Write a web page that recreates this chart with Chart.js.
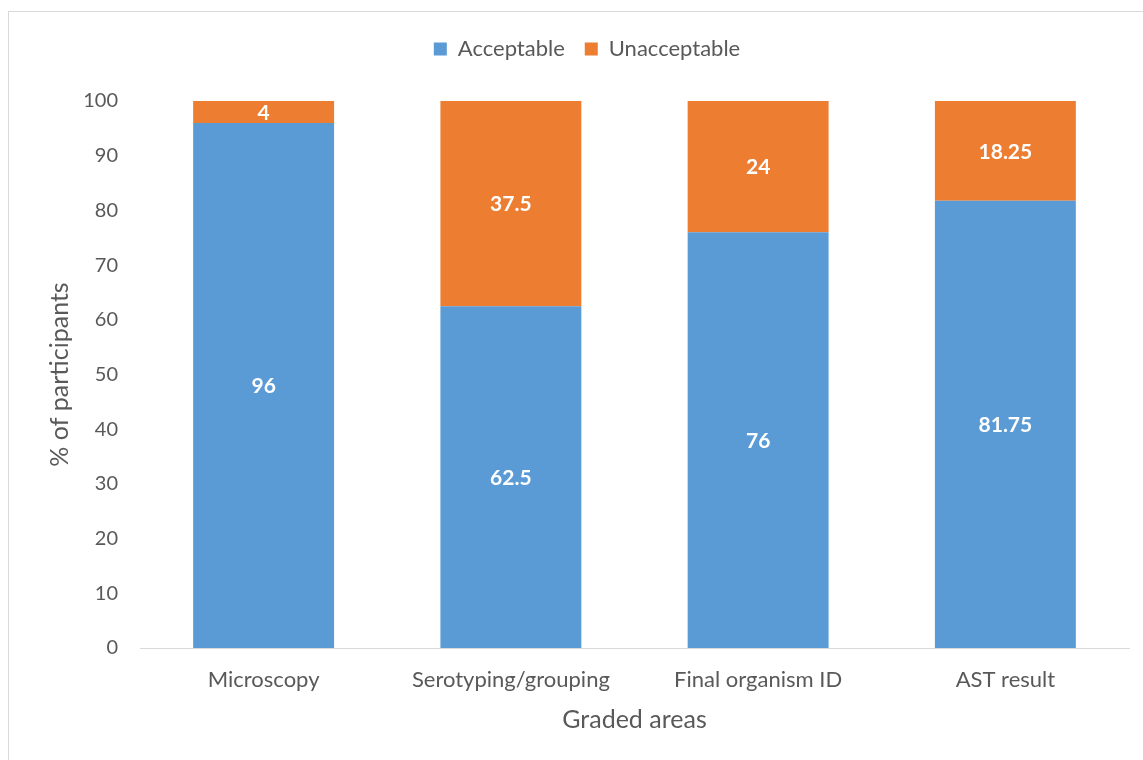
<!DOCTYPE html>
<html>
<head>
<meta charset="utf-8">
<script src="https://cdn.jsdelivr.net/npm/chart.js@4"></script>
<style>
  html, body { margin: 0; padding: 0; background: #fff; overflow: hidden; }
  #box {
    position: absolute; left: 8px; top: 11px;
    width: 1156px; height: 748px;
    border: 1px solid #d9d9d9;
  }
</style>
</head>
<body>
<div id="box"><canvas id="c" width="1156" height="748"></canvas></div>
<script>
var areas = ["Microscopy", "Serotyping/grouping", "Final organism ID", "AST result"];
var acceptable = [96, 62.5, 76, 81.75];
var unacceptable = [4, 37.5, 24, 18.25];

var txt = "#595959";
var face = "Lato, 'Open Sans', sans-serif";

// white value labels in the middle of each segment
var segLabels = {
  id: "segLabels",
  afterDatasetsDraw: function (chart) {
    var ctx = chart.ctx;
    ctx.save();
    ctx.font = "bold 21px " + face;
    ctx.fillStyle = "#fff";
    ctx.textAlign = "center";
    ctx.textBaseline = "middle";
    chart.data.datasets.forEach(function (ds, i) {
      chart.getDatasetMeta(i).data.forEach(function (bar, j) {
        var p = bar.getProps(["x", "y", "base"], true);
        ctx.fillText(String(ds.data[j]), p.x, (p.y + p.base) / 2 + 1);
      });
    });
    ctx.restore();
  }
};

new Chart(document.getElementById("c"), {
  type: "bar",
  data: {
    labels: areas,
    datasets: [
      { label: "Acceptable", data: acceptable, backgroundColor: "#5b9bd5" },
      { label: "Unacceptable", data: unacceptable, backgroundColor: "#ed7d31" }
    ]
  },
  options: {
    responsive: false,
    animation: false,
    categoryPercentage: 1,
    barPercentage: 0.57,
    layout: { padding: { top: 6, right: 36, bottom: 0, left: 36 } },
    plugins: {
      legend: {
        position: "top",
        labels: {
          color: txt,
          font: { family: face, size: 22 },
          boxWidth: 13,
          boxHeight: 13,
          padding: 20
        }
      },
      // empty title used as a gap between legend and plot
      title: {
        display: true,
        text: "",
        weight: 500,
        font: { size: 10, lineHeight: 1 },
        padding: { top: 21, bottom: 0 }
      },
      tooltip: { enabled: false }
    },
    scales: {
      x: {
        stacked: true,
        grid: { display: false, drawTicks: false },
        border: { display: true, color: "#d9d9d9", width: 1 },
        ticks: { color: txt, font: { family: face, size: 22 }, padding: 19 },
        title: {
          display: true,
          text: "Graded areas",
          color: txt,
          font: { family: face, size: 25 },
          padding: { top: 0, bottom: 25 }
        },
        afterFit: function (s) { s.height = 112; }
      },
      y: {
        stacked: true,
        min: 0,
        max: 100,
        grid: { display: false, drawTicks: false },
        border: { display: false },
        ticks: { stepSize: 10, color: txt, font: { family: face, size: 20 }, padding: 22 },
        title: {
          display: true,
          text: "% of participants",
          color: txt,
          font: { family: face, size: 25 },
          padding: { top: 0, bottom: 0 }
        },
        afterFit: function (s) { s.width = 95; }
      }
    }
  },
  plugins: [segLabels]
});
</script>
</body>
</html>
